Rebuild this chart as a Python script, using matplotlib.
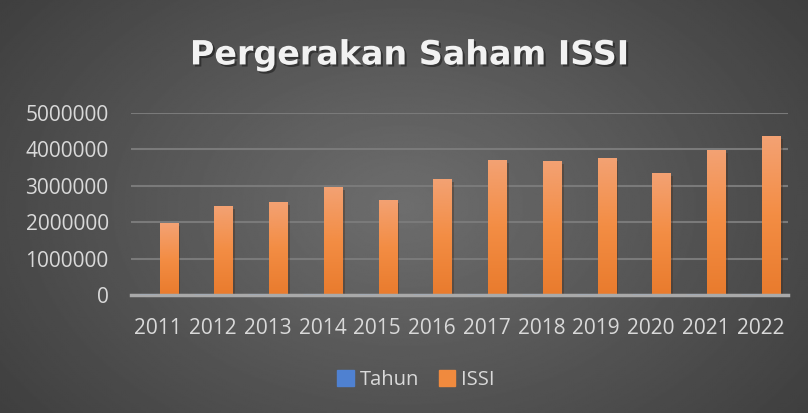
import numpy as np
import matplotlib
matplotlib.use("Agg")
import matplotlib.pyplot as plt
from matplotlib.patches import Patch
from matplotlib.colors import LinearSegmentedColormap
import matplotlib.patheffects as pe

# ---- data ----
years = ["2011", "2012", "2013", "2014", "2015", "2016",
         "2017", "2018", "2019", "2020", "2021", "2022"]
tahun = [2011, 2012, 2013, 2014, 2015, 2016, 2017, 2018, 2019, 2020, 2021, 2022]
issi = [1970000, 2450000, 2560000, 2970000, 2610000, 3190000,
        3710000, 3680000, 3760000, 3350000, 3980000, 4360000]
yticks = [0, 1000000, 2000000, 3000000, 4000000, 5000000]
title = "Pergerakan Saham ISSI"
series_names = ["Tahun", "ISSI"]

FONT = ["Open Sans", "DejaVu Sans"]
TXT = "#d9d9d9"
BLUE = "#4f81d1"
ORANGE = "#f08a3e"

fig = plt.figure(figsize=(8.08, 4.13), dpi=100)

# background radial gradient
bg = fig.add_axes([0, 0, 1, 1], zorder=-10)
bg.axis("off")
yy, xx = np.mgrid[0:1:300j, 0:1:600j]
r = np.sqrt(((xx - 0.5) / 0.75) ** 2 + ((yy - 0.5) / 1.0) ** 2)
v = np.clip(0.43 - 0.22 * r, 0.2, 1)
bg.imshow(v, cmap="gray", vmin=0, vmax=1, extent=[0, 1, 0, 1], aspect="auto",
          interpolation="bilinear")
bg.set_xlim(0, 1)
bg.set_ylim(0, 1)

ax = fig.add_axes([0.162, 0.285, 0.813, 0.442])
ax.set_facecolor("none")
x = np.arange(len(years))
w = 0.33
off = 0.19

ax.bar(x - off, tahun, w, color=BLUE, edgecolor="#8fb0e0", linewidth=1.0, zorder=4)
bars = ax.bar(x + off, issi, w, color=ORANGE, zorder=3,
              path_effects=[pe.SimplePatchShadow(offset=(2, -2), alpha=0.35), pe.Normal()])

cmap = LinearSegmentedColormap.from_list("og", ["#e97b2d", "#f38d44", "#f3a274"])
grad = np.linspace(0, 1, 256).reshape(-1, 1)
for b in bars:
    x0, y0 = b.get_x(), b.get_y()
    im = ax.imshow(grad, cmap=cmap, origin="lower", aspect="auto",
                   extent=[x0, x0 + b.get_width(), y0, y0 + b.get_height()],
                   zorder=3.5)
    im.set_clip_path(b)

ax.set_xlim(-0.5, len(years) - 0.5)
ax.set_ylim(0, 5000000)
ax.set_yticks(yticks)
ax.set_yticklabels([str(t) for t in yticks])
ax.set_xticks(x)
ax.set_xticklabels(years)
ax.yaxis.grid(True, color="#7a7a7a", linewidth=1.5)
ax.set_axisbelow(True)
for s in ["top", "right", "left"]:
    ax.spines[s].set_visible(False)
ax.spines["bottom"].set_color("#a9a9a9")
ax.spines["bottom"].set_linewidth(2.5)
ax.spines["bottom"].set_zorder(3.8)
ax.tick_params(axis="both", length=0, colors=TXT, labelsize=15)
ax.tick_params(axis="y", pad=16)
ax.tick_params(axis="x", pad=16)
for lab in ax.get_xticklabels() + ax.get_yticklabels():
    lab.set_family(FONT)

fig.text(0.507, 0.867, title, ha="center", va="center", fontsize=24,
         fontweight="bold", color="#f2f2f2", family=["DejaVu Sans"],
         path_effects=[pe.withSimplePatchShadow(offset=(1.5, -1.5), alpha=0.4, shadow_rgbFace="black")])

handles = [Patch(color=BLUE), Patch(color=ORANGE)]
leg = fig.legend(handles, series_names, loc="center", bbox_to_anchor=(0.515, 0.08),
                 ncol=2, frameon=False, handlelength=0.8, handleheight=0.8,
                 handletextpad=0.3, columnspacing=1.0,
                 prop={"family": FONT, "size": 14.5})
for t in leg.get_texts():
    t.set_color(TXT)

fig.savefig("out.png", dpi=100)
